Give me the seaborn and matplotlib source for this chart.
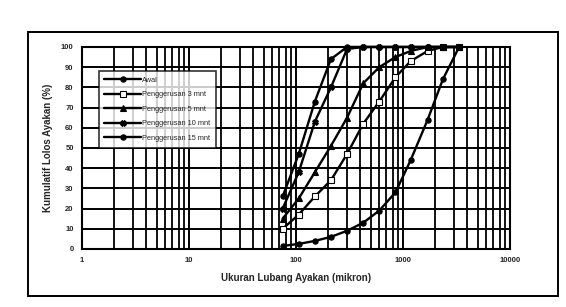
import matplotlib
matplotlib.use("Agg")
import matplotlib.pyplot as plt
import seaborn as sns
import pandas as pd
from matplotlib.patches import Rectangle
from matplotlib.ticker import FixedLocator, NullFormatter, LogLocator

sizes = [75, 106, 150, 212, 300, 425, 600, 850, 1180, 1700, 2360, 3350]
awal = [1.5, 2.5, 4, 6, 9, 13, 19, 28, 44, 64, 84, 100]
p3 = [10, 17, 26, 34, 47, 62, 73, 85, 93, 98, 100, 100]
p5 = [15, 25, 38, 51, 65, 82, 90, 95, 98, 100, 100, 100]
p10 = [20, 38, 63, 80, 99, 100, 100, 100, 100, 100, 100, 100]
p15 = [26, 47, 73, 94, 100, 100, 100, 100, 100, 100, 100, 100]
labels = ["Awal", "Penggerusan 3 mnt", "Penggerusan 5 mnt",
          "Penggerusan 10 mnt", "Penggerusan 15 mnt"]
series = [awal, p3, p5, p10, p15]
xticks = [1, 10, 100, 1000, 10000]
xticklabels = ["1", "10", "100", "1000", "10000"]
yticks = list(range(0, 101, 10))

rows = []
for lab, vals in zip(labels, series):
    for s, v in zip(sizes, vals):
        rows.append({"Ukuran": s, "Lolos": v, "Seri": lab})
df = pd.DataFrame(rows)

sns.set_style("white")
plt.rcParams["font.family"] = ["Liberation Sans", "DejaVu Sans"]

fig = plt.figure(figsize=(5.66, 3.07), dpi=100)
ax = fig.add_axes([0.145, 0.189, 0.756, 0.658])

markers = {"Awal": "o", "Penggerusan 3 mnt": "s", "Penggerusan 5 mnt": "^",
           "Penggerusan 10 mnt": "X", "Penggerusan 15 mnt": "o"}
fills = {"Awal": "black", "Penggerusan 3 mnt": "white", "Penggerusan 5 mnt": "black",
         "Penggerusan 10 mnt": "black", "Penggerusan 15 mnt": "black"}
for lab in labels:
    sub = df[df["Seri"] == lab]
    sns.lineplot(data=sub, x="Ukuran", y="Lolos", ax=ax, color="black",
                 linewidth=1.7, marker=markers[lab], markersize=3.8,
                 markerfacecolor=fills[lab], markeredgecolor="black",
                 markeredgewidth=0.8, label=lab, clip_on=False, zorder=5)

ax.set_xscale("log")
ax.set_xlim(1, 10000)
ax.set_ylim(0, 100)
ax.xaxis.set_major_locator(FixedLocator(xticks))
ax.set_xticklabels(xticklabels)
ax.xaxis.set_minor_locator(LogLocator(base=10, subs=range(2, 10)))
ax.xaxis.set_minor_formatter(NullFormatter())
ax.set_yticks(yticks)
ax.grid(True, which="major", axis="both", color="black", linewidth=1.4)
ax.grid(True, which="minor", axis="x", color="black", linewidth=1.3)
for sp in ax.spines.values():
    sp.set_visible(True)
    sp.set_color("black")
    sp.set_linewidth(1.5)
ax.tick_params(axis="both", which="major", labelsize=5.5, length=2, width=0.8,
               color="black", pad=4)
ax.tick_params(axis="x", which="minor", length=0)
for t in ax.get_xticklabels() + ax.get_yticklabels():
    t.set_fontweight("bold")

ax.set_xlabel("Ukuran Lubang Ayakan (mikron)", fontsize=7, labelpad=6,
              fontweight="semibold")
ax.set_ylabel("Kumulatif Lolos Ayakan (%)", fontsize=7, labelpad=6,
              fontweight="semibold")

leg = ax.legend(loc="upper left", bbox_to_anchor=(0.03, 0.9), fontsize=5.3,
                frameon=True, fancybox=False, edgecolor="black",
                handlelength=5.0, handletextpad=0.1, labelspacing=1.0,
                borderpad=0.8)
leg.get_frame().set_linewidth(1.2)
leg.get_frame().set_facecolor("white")
leg.set_zorder(10)

fig.patches.append(Rectangle((0.05, 0.036), 0.935, 0.86, transform=fig.transFigure,
                             fill=False, edgecolor="black", linewidth=1.4))

fig.savefig("out.png", dpi=100, facecolor="white")
